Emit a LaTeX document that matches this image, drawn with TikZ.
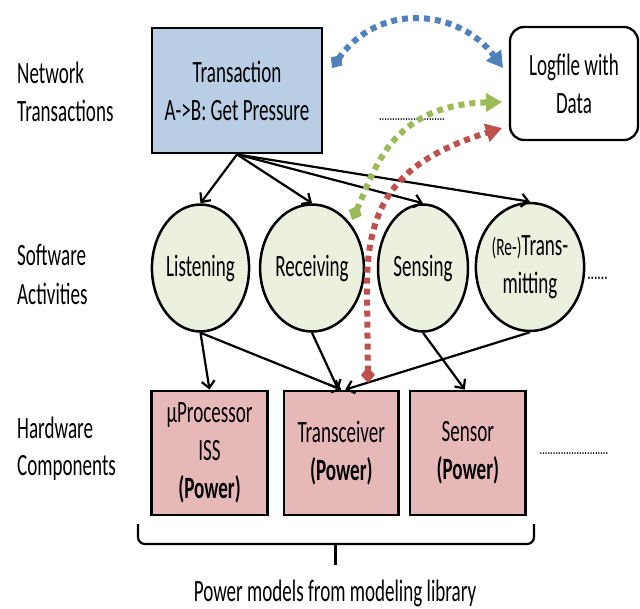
\documentclass[tikz,border=0pt]{standalone}
\usepackage{fontspec}
\setmainfont{Carlito}[FakeStretch=0.615]
\usetikzlibrary{arrows.meta,shapes.geometric}
\definecolor{boxblue}{HTML}{B9CDE5}
\definecolor{actgreen}{HTML}{EBF1DE}
\definecolor{hwred}{HTML}{E6B9B8}
\definecolor{dblue}{HTML}{4F81BD}
\definecolor{dgreen}{HTML}{9BBB59}
\definecolor{dred}{HTML}{C0504D}
\begin{document}
\begin{tikzpicture}[x=1pt,y=-1pt,
  every node/.style={font=\fontsize{31}{38}\selectfont, inner sep=0pt},
  txbox/.style={draw, line width=2.8pt, fill=boxblue, minimum width=170pt, minimum height=125pt, align=center},
  logbox/.style={draw, line width=2.3pt, rounded corners=14pt, fill=white, minimum width=128pt, minimum height=113pt, align=center},
  hwbox/.style={draw, line width=2.8pt, fill=hwred, minimum width=115pt, minimum height=124pt, align=center},
  act/.style={ellipse, draw, line width=2.5pt, fill=actgreen, align=center, minimum height=127pt},
  flow/.style={-{Straight Barb[length=7pt,width=13pt]}, line width=2.2pt},
  dflow/.style={line width=6pt, dash pattern=on 6pt off 5pt,
    {Diamond[length=16pt,width=14pt]}-{Triangle[length=16pt,width=18pt]}},
  dots/.style={anchor=base}
]
\useasboundingbox (0,0) rectangle (640,608);

% left labels
\node[anchor=base west] (n1) at (17,83) {Network};
\node[anchor=base west] (n2) at (17,121) {Transactions};
\node[anchor=base west] (s1) at (17,265) {Software};
\node[anchor=base west] (s2) at (17,304) {Activities};
\node[anchor=base west] (h1) at (17,438) {Hardware};
\node[anchor=base west] (h2) at (17,475) {Components};

% top row
\node[txbox] (T) at (237,90.5) {Transaction\\A->B: Get Pressure};
\node[logbox] (L) at (574,83.5) {Logfile with\\Data};
\node[dots, font=\fontsize{17}{17}\selectfont] (d1) at (412,120) {.........................};

% activities
\node[act, minimum width=96pt] (Lis) at (200.5,268) {Listening};
\node[act, minimum width=88pt] (Rec) at (312,268) {Receiving};
\node[act, minimum width=90pt] (Sns) at (423,268) {Sensing};
\node[act, minimum width=90pt, minimum height=128pt] (Tra) at (530,267)
  {{\fontsize{25}{38}\selectfont(Re-)}Trans-\\mitting};
\node[dots, font=\fontsize{22}{22}\selectfont] (d2) at (597.5,279) {......};

% hardware
\node[hwbox, minimum width=115.6pt] (MP) at (209.5,453) {µProcessor\\ISS\\\textbf{(Power)}};
\node[hwbox, minimum width=114.7pt] (Trc) at (341.3,453) {Transceiver\\\textbf{(Power)}};
\node[hwbox, minimum width=115.7pt] (Sen) at (467.8,453) {Sensor\\\textbf{(Power)}};
\node[dots, font=\fontsize{17}{17}\selectfont] (d3) at (574,454) {..........................};

% brace and caption
\draw[line width=2.2pt, rounded corners=7pt] (138,524) -- (138,544) -- (534,544) -- (534,524);
\draw[line width=2.2pt] (335.5,544) -- (335.5,565);
\node[anchor=base] (pm) at (335,601) {Power models from modeling library};

% black arrows
\draw[flow] (T.south) -- (Lis.north);
\draw[flow] (T.south) -- (Rec.north);
\draw[flow] (T.south) -- (Sns.north);
\draw[flow] (T.south) -- (Tra.north);
\draw[flow] (Lis.south) -- (MP.north);
\draw[flow] (Lis.south) -- (Trc.north);
\draw[flow] (Rec.south) -- ([xshift=-3pt]Trc.north);
\draw[flow] (Sns.south) -- ([xshift=-3pt]Sen.north);
\draw[flow] (Tra.south) -- ([xshift=4pt]Trc.north);

% coloured dashed arrows
\coordinate (b1) at (332,68);
\coordinate (b2) at (503,68);
\coordinate (g1) at (352,220);
\coordinate (g2) at (502,102);
\coordinate (r1) at (368,383);
\coordinate (r2) at (367,290);
\coordinate (r3) at (502,128);
\draw[dflow, dblue] (b1) .. controls (380,0) and (460,10) .. (b2);
\draw[dflow, dgreen] (g1) .. controls (375,170) and (390,105) .. (g2);
\draw[dflow, dred] (r1) -- (r2) .. controls (366,200) and (400,160) .. (r3);
\end{tikzpicture}
\end{document}
